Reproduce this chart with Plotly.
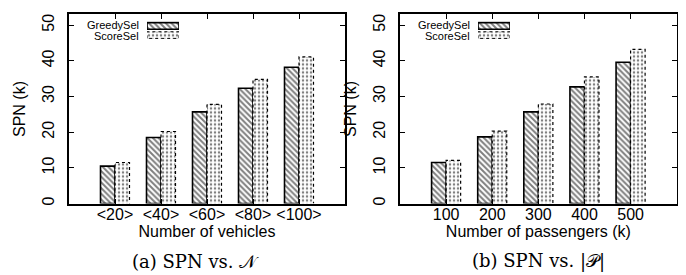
import plotly.graph_objects as go

# ---------------- data ----------------
vehicle_labels = ["<20>", "<40>", "<60>", "<80>", "<100>"]
greedy_vehicles = [10.5, 18.5, 25.7, 32.3, 38.2]
score_vehicles = [11.5, 20.2, 27.8, 34.8, 41.1]

passenger_labels = ["100", "200", "300", "400", "500"]
greedy_passengers = [11.5, 18.7, 25.7, 32.7, 39.6]
score_passengers = [12.1, 20.3, 27.9, 35.5, 43.2]

series_names = ["GreedySel", "ScoreSel"]
y_ticks = [0, 10, 20, 30, 40, 50]

# ---------------- style ----------------
W, H = 686, 275
BAR_W = 0.315
SANS = "Liberation Sans"
SERIF = "DejaVu Serif"
FS = 16

def px_x(p):
    return p / W

def px_y(p):
    return 1 - p / H

fig = go.Figure()

greedy_marker = dict(color="white", line=dict(color="black", width=1.6),
                     pattern=dict(shape="\\", size=4, solidity=0.5, fgcolor="black",
                                  bgcolor="white", fillmode="overlay"))
score_marker = dict(color="white", line=dict(color="rgba(0,0,0,0)", width=0),
                    pattern=dict(shape=".", size=4, solidity=0.3, fgcolor="black",
                                 bgcolor="white", fillmode="overlay"))


def add_panel(labels, greedy, score, xa, ya):
    idx = list(range(len(labels)))
    gx = [i - BAR_W / 2 for i in idx]
    sx = [i + BAR_W / 2 for i in idx]
    fig.add_trace(go.Bar(x=gx, y=greedy, width=BAR_W, marker=greedy_marker,
                         xaxis=xa, yaxis=ya, showlegend=False, name=series_names[0]))
    fig.add_trace(go.Bar(x=sx, y=score, width=BAR_W, marker=score_marker,
                         xaxis=xa, yaxis=ya, showlegend=False, name=series_names[1]))
    # dotted outline of the ScoreSel bars, derived from the data
    ox, oy = [], []
    for x, v in zip(sx, score):
        l, r = x - BAR_W / 2, x + BAR_W / 2
        ox += [l, l, r, r, None]
        oy += [0, v, v, 0, None]
    fig.add_trace(go.Scatter(x=ox, y=oy, mode="lines", xaxis=xa, yaxis=ya,
                             line=dict(color="black", width=1.2, dash="dot"),
                             showlegend=False, hoverinfo="skip"))


add_panel(vehicle_labels, greedy_vehicles, score_vehicles, "x", "y")
add_panel(passenger_labels, greedy_passengers, score_passengers, "x2", "y2")

# legend samples drawn as tiny horizontal bars on their own axes
def add_legend(xa, ya):
    fig.add_trace(go.Bar(y=[1], x=[1], orientation="h", width=0.72, marker=greedy_marker,
                         xaxis=xa, yaxis=ya, showlegend=False, hoverinfo="skip"))
    fig.add_trace(go.Bar(y=[0], x=[1], orientation="h", width=0.72, marker=score_marker,
                         xaxis=xa, yaxis=ya, showlegend=False, hoverinfo="skip"))
    fig.add_trace(go.Scatter(x=[0, 0, 1, 1, 0], y=[-0.36, 0.36, 0.36, -0.36, -0.36],
                             mode="lines", xaxis=xa, yaxis=ya,
                             line=dict(color="black", width=1, dash="dot"),
                             showlegend=False, hoverinfo="skip"))

add_legend("x3", "y3")
add_legend("x4", "y4")

left_dom = [px_x(61), px_x(337)]
right_dom = [px_x(392), px_x(668.7)]
y_dom = [px_y(196.7), px_y(5.5)]

axis_common = dict(showline=True, linecolor="black", linewidth=1.5, mirror="ticks",
                   ticks="inside", ticklen=5, tickwidth=1, tickcolor="black",
                   showgrid=False, zeroline=False,
                   tickfont=dict(family=SANS, size=FS, color="black"))

xcommon = dict(axis_common, range=[-1, 5], tickvals=list(range(5)), ticklabelstandoff=-5)
ycommon = dict(axis_common, range=[0, 53], tickvals=y_ticks, tickangle=-90,
               ticklabelstandoff=7,
               title=dict(text="SPN (k)", font=dict(family=SANS, size=FS, color="black"),
                          standoff=10))

leg_x_left = [px_x(139), px_x(171)]
leg_x_right = [px_x(470), px_x(502)]
leg_y = [px_y(31), px_y(12.5)]
hidden = dict(visible=False, fixedrange=True)

fig.update_layout(
    width=W, height=H,
    margin=dict(l=0, r=0, t=0, b=0),
    paper_bgcolor="white", plot_bgcolor="white",
    barmode="overlay",
    showlegend=False,
    xaxis=dict(xcommon, domain=left_dom, anchor="y", ticktext=vehicle_labels,
               title=dict(text="Number of vehicles", standoff=0,
                          font=dict(family=SANS, size=FS, color="black"))),
    yaxis=dict(ycommon, domain=y_dom, anchor="x"),
    xaxis2=dict(xcommon, domain=right_dom, anchor="y2", ticktext=passenger_labels,
                title=dict(text="Number of passengers (k)", standoff=0,
                           font=dict(family=SANS, size=FS, color="black"))),
    yaxis2=dict(ycommon, domain=y_dom, anchor="x2"),
    xaxis3=dict(hidden, domain=leg_x_left, range=[0, 1], anchor="y3"),
    yaxis3=dict(hidden, domain=leg_y, range=[-0.5, 1.5], anchor="x3"),
    xaxis4=dict(hidden, domain=leg_x_right, range=[0, 1], anchor="y4"),
    yaxis4=dict(hidden, domain=leg_y, range=[-0.5, 1.5], anchor="x4"),
)

# legend texts (right-aligned, left of the samples)
for x_end in (132.7, 463.5):
    for name, ypx in zip(series_names, (16, 27.5)):
        fig.add_annotation(x=px_x(x_end), y=px_y(ypx), xref="paper", yref="paper",
                           text=name, showarrow=False, xanchor="right", yanchor="middle",
                           font=dict(family=SANS, size=11, color="black"))

# sub-captions
captions = ["(a) SPN vs. 𝒩", "(b) SPN vs. |𝒫|"]
for cap, xc in zip(captions, (187, 530)):
    fig.add_annotation(x=px_x(xc), y=px_y(268), xref="paper", yref="paper",
                       text=cap, showarrow=False, xanchor="center", yanchor="bottom",
                       font=dict(family=SERIF, size=18, color="black"))

fig.write_html("out.html")
